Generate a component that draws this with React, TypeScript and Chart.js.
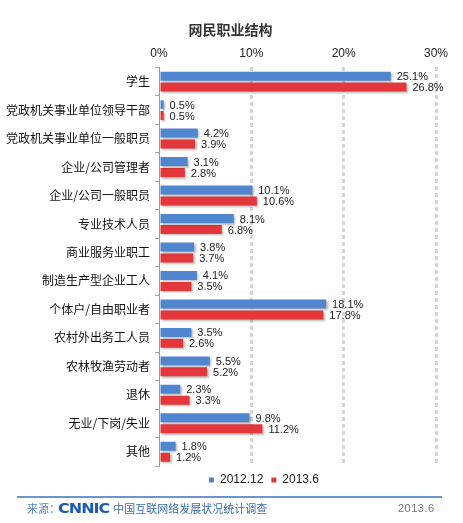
import React, { useEffect, useRef } from "react";
import { Chart, registerables } from "chart.js";

Chart.register(...registerables);

const categories = [
  "学生",
  "党政机关事业单位领导干部",
  "党政机关事业单位一般职员",
  "企业/公司管理者",
  "企业/公司一般职员",
  "专业技术人员",
  "商业服务业职工",
  "制造生产型企业工人",
  "个体户/自由职业者",
  "农村外出务工人员",
  "农林牧渔劳动者",
  "退休",
  "无业/下岗/失业",
  "其他",
];
const series2012 = [25.1, 0.5, 4.2, 3.1, 10.1, 8.1, 3.8, 4.1, 18.1, 3.5, 5.5, 2.3, 9.8, 1.8];
const series2013 = [26.8, 0.5, 3.9, 2.8, 10.6, 6.8, 3.7, 3.5, 17.8, 2.6, 5.2, 3.3, 11.2, 1.2];
const seriesNames = ["2012.12", "2013.6"];
const xTicks = [0, 10, 20, 30];

const BLUE = "#4f86cf";
const RED = "#e4373b";

const barExtras = {
  id: "barExtras",
  afterLayout(chart: any) {
    // shift the legend so that it is centred like the original
    if (chart.legend) {
      chart.legend.left += 92;
    }
  },
  beforeDatasetsDraw(chart: any) {
    const ctx = chart.ctx;
    ctx.save();
    ctx.shadowColor = "rgba(0,0,0,0.28)";
    ctx.shadowOffsetX = 1.5;
    ctx.shadowOffsetY = 1.5;
    ctx.shadowBlur = 2;
  },
  afterDatasetsDraw(chart: any) {
    const ctx = chart.ctx;
    ctx.restore();
    ctx.save();
    ctx.font = '11px "Liberation Sans", Arial, sans-serif';
    ctx.fillStyle = "#222";
    ctx.textAlign = "left";
    ctx.textBaseline = "middle";
    chart.data.datasets.forEach((ds: any, di: number) => {
      const meta = chart.getDatasetMeta(di);
      meta.data.forEach((el: any, i: number) => {
        const v = ds.data[i];
        ctx.fillText(v.toFixed(1) + "%", el.x + 6, el.y + 1);
      });
    });
    ctx.restore();
  },
};

export default function App() {
  const ref = useRef<HTMLCanvasElement | null>(null);
  useEffect(() => {
    if (!ref.current) return;
    const chart = new Chart(ref.current, {
      type: "bar",
      data: {
        labels: categories,
        datasets: [
          {
            label: seriesNames[0],
            data: series2012,
            backgroundColor: BLUE,
            categoryPercentage: 0.77,
            barPercentage: 0.82,
          },
          {
            label: seriesNames[1],
            data: series2013,
            backgroundColor: RED,
            categoryPercentage: 0.77,
            barPercentage: 0.82,
          },
        ],
      },
      options: {
        indexAxis: "y",
        responsive: false,
        animation: false,
        devicePixelRatio: 1,
        layout: { padding: { left: 0, right: 27, top: 39, bottom: 27 } },
        scales: {
          x: {
            position: "top",
            min: 0,
            max: 30,
            afterBuildTicks: (scale: any) => {
              scale.ticks = xTicks.map((v) => ({ value: v }));
            },
            ticks: {
              callback: (v: any) => v + "%",
              color: "#222",
              padding: 7,
              font: { family: '"Liberation Sans", Arial, sans-serif', size: 12 },
            },
            grid: {
              drawTicks: false,
              lineWidth: 3,
              color: (c: any) => (c.tick && c.tick.value === 0 ? "rgba(0,0,0,0)" : "#d6d6d6"),
            },
            border: { display: false, dash: [4, 3] },
          },
          y: {
            afterFit: (scale: any) => {
              scale.width = 159;
            },
            ticks: {
              color: "#111",
              padding: 5,
              font: { family: '"Noto Sans CJK SC", sans-serif', size: 12 },
            },
            grid: {
              offset: true,
              drawOnChartArea: false,
              drawTicks: true,
              tickLength: 4,
              color: "#aaa",
            },
            border: { display: true, color: "#999", width: 1 },
          },
        },
        plugins: {
          title: { display: false },
          tooltip: { enabled: false },
          legend: {
            position: "bottom",
            labels: {
              boxWidth: 5,
              boxHeight: 5,
              padding: 8,
              color: "#222",
              font: { family: '"Liberation Sans", Arial, sans-serif', size: 12 },
            },
          },
        },
      },
      plugins: [barExtras],
    });
    return () => chart.destroy();
  }, []);

  return (
    <div
      style={{
        position: "absolute",
        left: 0,
        top: 0,
        width: 463,
        height: 523,
        background: "#fff",
        overflow: "hidden",
      }}
    >
      <canvas ref={ref} width={463} height={523} style={{ width: 463, height: 523, display: "block" }} />
      <div
        style={{
          position: "absolute",
          left: 0,
          width: 463,
          top: 19,
          textAlign: "center",
          fontFamily: '"Noto Sans CJK SC", sans-serif',
          fontWeight: "bold",
          fontSize: 14,
          lineHeight: "20px",
          color: "#333",
          boxSizing: "border-box",
          paddingRight: 2,
        }}
      >
        网民职业结构
      </div>
      <div
        style={{
          position: "absolute",
          left: 17,
          top: 496,
          width: 425,
          height: 2,
          background: "#6a96cf",
        }}
      />
      <div
        style={{
          position: "absolute",
          left: 27,
          top: 500,
          height: 16,
          display: "flex",
          alignItems: "center",
          fontFamily: '"Noto Sans CJK SC", sans-serif',
          fontSize: 11,
          color: "#3a6db5",
          whiteSpace: "nowrap",
        }}
      >
        <span style={{ color: "#5a82bd" }}>来源：</span>
        <span
          style={{
            fontFamily: '"DejaVu Sans", sans-serif',
            fontWeight: "bold",
            fontSize: 16,
            color: "#1d5cb2",
            letterSpacing: -1,
            marginLeft: -2,
            marginRight: 4,
            transform: "scaleY(0.9)",
            display: "inline-block",
          }}
        >
          CNNIC
        </span>
        <span>中国互联网络发展状况统计调查</span>
      </div>
      <div
        style={{
          position: "absolute",
          left: 398,
          top: 500,
          height: 16,
          lineHeight: "16px",
          fontFamily: '"Liberation Sans", Arial, sans-serif',
          fontSize: 11,
          color: "#777",
          letterSpacing: 0.5,
        }}
      >
        2013.6
      </div>
    </div>
  );
}
